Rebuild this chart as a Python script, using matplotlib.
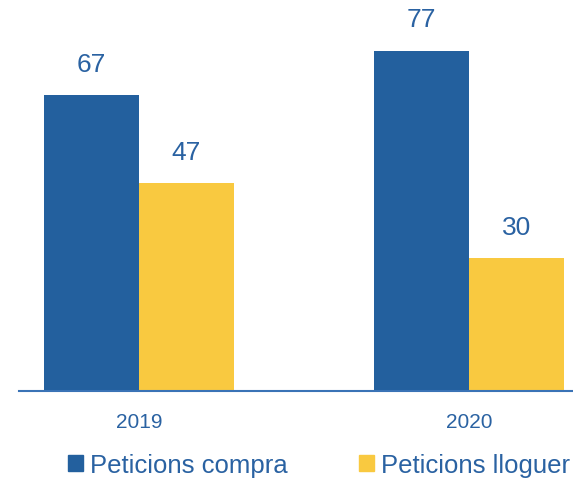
import matplotlib
matplotlib.use('Agg')
from matplotlib import pyplot as plt
from matplotlib.patches import Patch
import numpy as np

years = ['2019', '2020']
compra = [67, 77]
lloguer = [47, 30]
series_names = ['Peticions compra', 'Peticions lloguer']

BLUE = '#23609e'
YELLOW = '#f9c940'
TEXT = '#2a62a2'
AXIS = '#3a73b6'

plt.rcParams['font.family'] = ['Liberation Sans', 'DejaVu Sans']

W, H = 573, 481
fig = plt.figure(figsize=(W / 100, H / 100), dpi=100)
ax = fig.add_axes([19 / W, (H - 392) / H, (W - 19) / W, 392 / H])

x = np.arange(len(years))
width = 0.288
b1 = ax.bar(x - width / 2, compra, width, color=BLUE)
b2 = ax.bar(x + width / 2, lloguer, width, color=YELLOW)

for bars, vals in ((b1, compra), (b2, lloguer)):
    for rect, v in zip(bars, vals):
        ax.annotate(str(v), (rect.get_x() + rect.get_width() / 2, v),
                    xytext=(0, 14), textcoords='offset points',
                    ha='center', va='bottom', fontsize=19, color=TEXT)

ax.set_xlim(-0.3636, 1.315)
ax.set_ylim(0, 392 / 4.418)

for side in ('top', 'right', 'left'):
    ax.spines[side].set_visible(False)
ax.spines['bottom'].set_color(AXIS)
ax.spines['bottom'].set_linewidth(1.5)
ax.set_yticks([])
ax.set_xticks(x)
ax.set_xticklabels(years, fontsize=15, color=TEXT)
ax.tick_params(axis='x', length=0, pad=15)

handles = [Patch(color=BLUE), Patch(color=YELLOW)]
fig.legend(handles, series_names, loc='center', bbox_to_anchor=(319 / W, 1 - 466 / H),
           ncol=2, frameon=False, fontsize=18.5, labelcolor=TEXT,
           handlelength=0.58, handleheight=0.58, handletextpad=0.27,
           columnspacing=2.8, borderpad=0, borderaxespad=0)

fig.savefig('out.png', dpi=100)
